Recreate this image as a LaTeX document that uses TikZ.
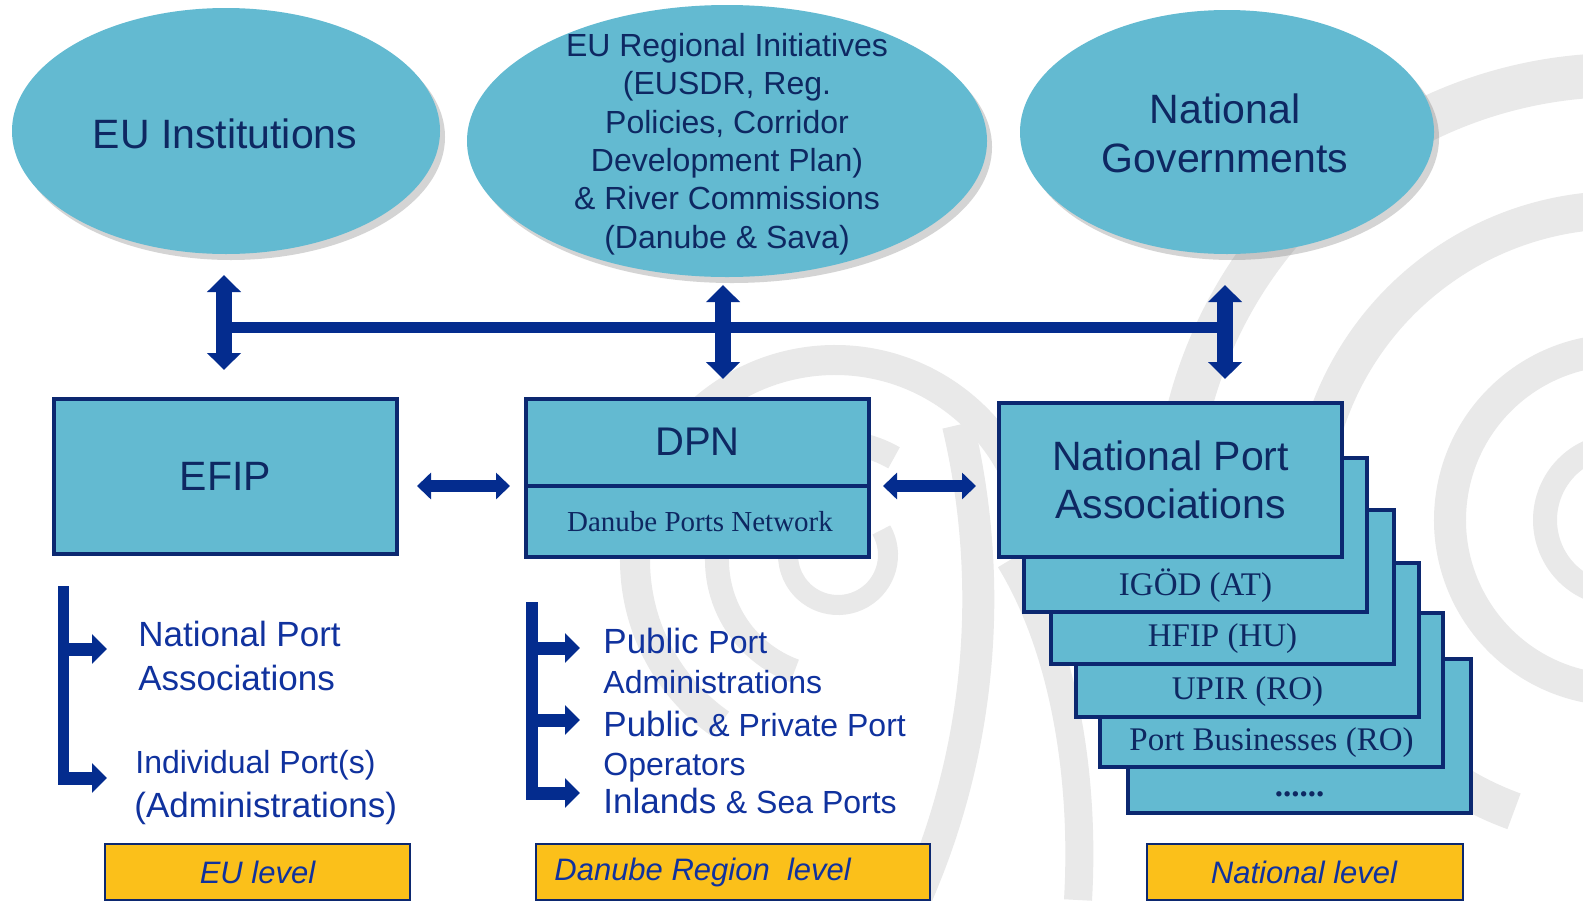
\documentclass[tikz,border=0pt]{standalone}
\usepackage{fontspec}
\setmainfont{Liberation Sans}
\newfontfamily\camb{Liberation Serif}
\usetikzlibrary{shapes.geometric,arrows.meta,shadows,calc}
\definecolor{cTeal}{RGB}{99,186,209}
\definecolor{cNavy}{RGB}{12,40,112}
\definecolor{cInk}{RGB}{14,40,98}
\definecolor{cBlue}{RGB}{16,50,158}
\definecolor{cArrow}{RGB}{4,44,142}
\definecolor{cYellow}{RGB}{251,192,26}
\definecolor{cGrey}{RGB}{233,233,233}
\newcommand\myfs[2]{\fontsize{#1}{#2}\selectfont}
\begin{document}
\begin{tikzpicture}[x=0.5pt,y=-0.5pt,
  ell/.style={ellipse, fill=cTeal, inner sep=0pt, outer sep=0pt,
    drop shadow={shadow xshift=2.5pt, shadow yshift=-3pt, fill=black!60, opacity=.28}},
  elltxt/.style={text=cInk, align=center, inner sep=0pt},
  boxst/.style={rectangle, draw=cNavy, line width=2pt, fill=cTeal,
    minimum width=171.5pt, minimum height=77pt, inner sep=0pt, outer sep=0pt},
  boxtxt/.style={text=cInk, align=center, inner sep=0pt},
  stacktxt/.style={text=cInk, inner sep=0pt, font=\camb\myfs{16.5}{19}},
  lvl/.style={rectangle, draw=cNavy, line width=1pt, fill=cYellow,
    minimum height=28pt, inner sep=0pt, anchor=north west},
  lvltxt/.style={text=cBlue, inner sep=0pt, font=\itshape\myfs{15.5}{18}},
  listtxt/.style={text=cBlue, inner sep=0pt, anchor=base west},
  varrow/.style={draw=cArrow, line width=8pt,
    {Triangle[length=8.5pt,width=16.5pt]}-{Triangle[length=8.5pt,width=16.5pt]}},
  harrow/.style={draw=cArrow, line width=6pt,
    {Triangle[length=7pt,width=13pt]}-{Triangle[length=7pt,width=13pt]}},
  hbar/.style={draw=cArrow, line width=5.5pt},
  brk/.style={draw=cArrow, line width=5.5pt},
  brarrow/.style={draw=cArrow, line width=6.5pt, -{Triangle[length=7.5pt,width=14.5pt]}},
  bgarc/.style={draw=cGrey}
]
\useasboundingbox (0,0) rectangle (1583,900);
\fill[white] (0,0) rectangle (1583,900);

% background swirl
\begin{scope}
\clip (0,0) rectangle (1583,900);
\draw[bgarc, line width=10pt] (838,555) ++(-30:50) arc[start angle=-30,end angle=200,radius=50];
\draw[bgarc, line width=12pt] (835,560) ++(110:118) arc[start angle=110,end angle=300,radius=118];
\draw[bgarc, line width=15pt] (835,560) ++(125:200) arc[start angle=125,end angle=345,radius=200];
\draw[bgarc, line width=16pt] (958,425) .. controls (990,560) and (990,730) .. (915,900);
\draw[bgarc, line width=14pt] (1010,560) .. controls (1065,650) and (1085,780) .. (1078,900);
\draw[bgarc, line width=22pt] (1620,520) ++(150:445) arc[start angle=150,end angle=276,radius=445];
\draw[bgarc, line width=19pt] (1620,520) ++(110:310) arc[start angle=110,end angle=272,radius=310];
\draw[bgarc, line width=16pt] (1620,520) ++(100:170) arc[start angle=100,end angle=272,radius=170];
\draw[bgarc, line width=12pt] (1620,520) ++(70:75) arc[start angle=70,end angle=250,radius=75];
\end{scope}

% top ellipses
\node[ell, minimum width=214pt, minimum height=123pt] (eu) at (226,131) {};
\node[elltxt, font=\myfs{20.5}{24.5}] (eutxt) at (225,134) {EU Institutions};
\node[ell, minimum width=260pt, minimum height=136pt] (eri) at (727,141) {};
\node[elltxt, font=\myfs{16}{19.2}] (eritxt) at (727,144)
  {EU Regional Initiatives\\(EUSDR, Reg.\\Policies, Corridor\\Development Plan)\\\& River Commissions\\(Danube \& Sava)};
\node[ell, minimum width=207pt, minimum height=122pt] (ng) at (1227,132) {};
\node[elltxt, font=\myfs{20.5}{24.5}] (ngtxt) at (1225,133) {National\\Governments};

% boxes
\node[boxst, minimum height=77.5pt] (efip) at (225.5,476.5) {};
\node[boxtxt, font=\myfs{20.5}{24}] (efiptxt) at (efip.center) {EFIP};
\node[boxst, minimum height=79pt] (dpn) at (697.5,478) {};
\coordinate (divY) at (0,486);
\draw[cNavy, line width=2pt] (dpn.west |- divY) -- (dpn.east |- divY);
\node[boxtxt, font=\myfs{20}{24}] (dpntxt) at (697.5,442) {DPN};
\node[boxtxt, font=\camb\myfs{14.5}{17}] (dpnsub) at (700,522) {Danube Ports Network};

\node[boxst, anchor=north west] (s5) at (1128,659) {};
\node[boxst, anchor=north west] (s4) at (1100,613) {};
\node[boxst, anchor=north west] (s3) at (1076,563) {};
\node[boxst, anchor=north west] (s2) at (1051,510) {};
\node[boxst, anchor=north west] (s1) at (1024,458) {};
\node[boxst, anchor=north west] (npa) at (999,403) {};
\node[boxtxt, font=\myfs{20.5}{24}] (npatxt) at (1170.5,480) {National Port\\Associations};
\node[stacktxt] (t1) at ($(s1.south)+(0,-26)$) {IGÖD (AT)};
\node[stacktxt] (t2) at ($(s2.south)+(0,-25)$) {HFIP (HU)};
\node[stacktxt] (t3) at ($(s3.south)+(0,-25)$) {UPIR (RO)};
\node[stacktxt] (t4) at ($(s4.south)+(0,-24)$) {Port Businesses (RO)};
\node[stacktxt, anchor=base, font=\camb\bfseries\myfs{16.5}{19}] (t5) at ($(s5.south)+(0,-17)$) {......};

% connectors top
\coordinate (barY) at (0,327);
\coordinate (v1) at ([xshift=-1pt]eu.south);
\coordinate (v2) at ([xshift=-2pt]eri.south);
\coordinate (v3) at ([xshift=-1pt]ng.south);
\draw[hbar] (v1 |- barY) -- (v3 |- barY);
\draw[varrow, shorten <=10.5pt, shorten >=14.5pt] (v1) -- (v1 |- efip.north);
\draw[varrow, shorten <=4pt, shorten >=10pt] (v2) -- (v2 |- dpn.north);
\draw[varrow, shorten <=15.5pt, shorten >=12pt] (v3) -- (v3 |- npa.north);

% horizontal arrows
\draw[harrow, shorten <=10pt, shorten >=8pt] (efip.east |- divY) -- (dpn.west |- divY);
\draw[harrow, shorten <=7pt, shorten >=11.5pt] (dpn.east |- divY) -- (npa.west |- divY);

% left list
\node[listtxt, font=\myfs{17.5}{21}] (l1) at (138,646) {National Port};
\node[listtxt, font=\myfs{17.5}{21}] (l2) at (138,690) {Associations};
\node[listtxt, font=\myfs{16}{19}] (l3) at (135,773) {Individual Port(s)};
\node[listtxt, font=\myfs{17.5}{20}] (l4) at (134,817) {(Administrations)};
\coordinate (lb1) at (63,586);
\coordinate (lb2) at (63,783);
\draw[brk] (lb1) -- (lb2);
\coordinate (la1) at (63,649);
\coordinate (la1t) at (107,649);
\coordinate (la2) at (58,778);
\coordinate (la2t) at (107,778);
\draw[brarrow] (la1) -- (la1t);
\draw[brarrow] (la2) -- (la2t);

% middle list
\node[listtxt] (m1) at (603,653) {\myfs{17.5}{21}Public \myfs{16}{19}Port};
\node[listtxt, font=\myfs{16}{19}] (m2) at (603,693) {Administrations};
\node[listtxt] (m3) at (603,736) {\myfs{17.5}{21}Public \myfs{16}{19}\& Private Port};
\node[listtxt, font=\myfs{16}{19}] (m4) at (603,775) {Operators};
\node[listtxt] (m5) at (603,813) {\myfs{17.5}{21}Inlands \myfs{16}{19}\& Sea Ports};
\coordinate (mb1) at (532,602);
\coordinate (mb2) at (532,800);
\draw[brk, line width=6pt] (mb1) -- (mb2);
\coordinate (ma1) at (532,648);
\coordinate (ma1t) at (580,648);
\coordinate (ma2) at (532,720);
\coordinate (ma2t) at (580,720);
\coordinate (ma3) at (526,793);
\coordinate (ma3t) at (580,793);
\draw[brarrow] (ma1) -- (ma1t);
\draw[brarrow] (ma2) -- (ma2t);
\draw[brarrow] (ma3) -- (ma3t);

% level labels
\node[lvl, minimum width=152.5pt] (lv1) at (104,843) {};
\node[lvltxt] (lv1t) at (lv1.center) {EU level};
\node[lvl, minimum width=197pt] (lv2) at (535,843) {};
\node[lvltxt, anchor=west] (lv2t) at ([xshift=9.5pt]lv2.west) {Danube Region\ \ level};
\node[lvl, minimum width=158pt] (lv3) at (1146,843) {};
\node[lvltxt] (lv3t) at ([xshift=-0.5pt]lv3.center) {National level};
\end{tikzpicture}
\end{document}
